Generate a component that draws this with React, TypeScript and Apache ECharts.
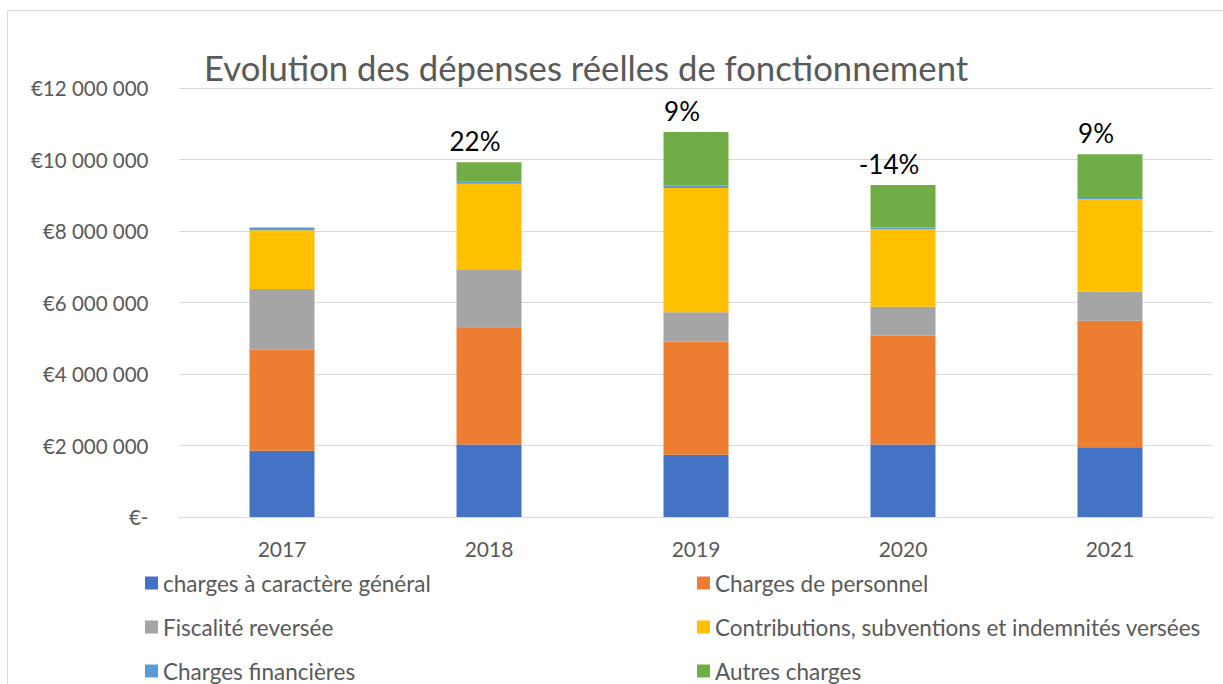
import React, { useEffect, useRef } from "react";
import * as echarts from "echarts";

const years = ["2017", "2018", "2019", "2020", "2021"];
const chargesGenerales = [1855000, 2030000, 1740000, 2030000, 1950000];
const chargesPersonnel = [2825000, 3280000, 3170000, 3050000, 3540000];
const fiscaliteReversee = [1700000, 1600000, 820000, 800000, 810000];
const contributions = [1640000, 2410000, 3470000, 2170000, 2590000];
const chargesFinancieres = [80000, 70000, 70000, 50000, 30000];
const autresCharges = [0, 530000, 1500000, 1190000, 1230000];
const growthLabels = ["", "22%", "9%", "-14%", "9%"];

const seriesNames = [
  "charges à caractère général",
  "Charges de personnel",
  "Fiscalité reversée",
  "Contributions, subventions et indemnités versées",
  "Charges financières",
  "Autres charges",
];
const seriesValues = [
  chargesGenerales,
  chargesPersonnel,
  fiscaliteReversee,
  contributions,
  chargesFinancieres,
  autresCharges,
];
const colors = ["#4472C4", "#ED7D31", "#A5A5A5", "#FFC000", "#5B9BD5", "#70AD47"];

const FONT = "Lato, 'Open Sans', sans-serif";
const GREY_TEXT = "#595959";

function fmtEuro(v: number): string {
  if (v === 0) return "€-";
  return "€" + String(v).replace(/\B(?=(\d{3})+(?!\d))/g, " ");
}

export default function App() {
  const ref = useRef<HTMLDivElement>(null);
  useEffect(() => {
    document.body.style.margin = "0";
    if (!ref.current) return;
    const chart = echarts.init(ref.current, null, { renderer: "svg" });
    const series = seriesValues.map((vals, i) => ({
      name: seriesNames[i],
      type: "bar",
      stack: "total",
      barWidth: 65,
      data: vals,
      itemStyle: { color: colors[i] },
      label:
        i === seriesValues.length - 1
          ? {
              show: true,
              position: "top",
              distance: 0,
              offset: [-14, -7],
              color: "#000",
              fontFamily: FONT,
              fontSize: 26,
              lineHeight: 28,
              formatter: (p: any) => growthLabels[p.dataIndex],
            }
          : { show: false },
    }));
    const legendText = {
      color: GREY_TEXT,
      fontFamily: FONT,
      fontSize: 22.5,
      lineHeight: 24,
    };
    chart.setOption({
      animation: false,
      backgroundColor: "#fff",
      color: colors,
      title: {
        text: "Evolution des dépenses réelles de fonctionnement",
        left: 204,
        top: 50,
        padding: 0,
        textStyle: {
          fontFamily: FONT,
          fontWeight: "normal",
          fontSize: 34.7,
          color: GREY_TEXT,
        },
      },
      graphic: [
        {
          type: "rect",
          shape: { x: 7.5, y: 10.5, width: 1400, height: 800 },
          style: { fill: "none", stroke: "#d9d9d9", lineWidth: 1 },
          silent: true,
          z: -10,
        },
      ],
      grid: { left: 178.5, right: 9.5, top: 88, bottom: 167 },
      xAxis: {
        type: "category",
        data: years,
        axisLine: { lineStyle: { color: "#d9d9d9" } },
        axisTick: { show: false },
        axisLabel: {
          color: GREY_TEXT,
          fontFamily: FONT,
          fontSize: 21,
          margin: 21,
        },
      },
      yAxis: {
        type: "value",
        min: 0,
        max: 12000000,
        interval: 2000000,
        axisLine: { show: false },
        axisTick: { show: false },
        splitLine: { lineStyle: { color: "#d9d9d9", width: 1 } },
        axisLabel: {
          color: GREY_TEXT,
          fontFamily: FONT,
          fontSize: 20.5,
          margin: 30,
          formatter: (v: number) => fmtEuro(v),
        },
      },
      legend: [
        {
          orient: "vertical",
          left: 145,
          top: 571,
          padding: 0,
          itemWidth: 13,
          itemHeight: 13,
          itemGap: 20,
          icon: "rect",
          data: [seriesNames[0], seriesNames[2], seriesNames[4]],
          textStyle: legendText,
        },
        {
          orient: "vertical",
          left: 697,
          top: 571,
          padding: 0,
          itemWidth: 13,
          itemHeight: 13,
          itemGap: 20,
          icon: "rect",
          data: [seriesNames[1], seriesNames[3], seriesNames[5]],
          textStyle: legendText,
        },
      ],
      series,
    });
    return () => chart.dispose();
  }, []);
  return <div ref={ref} style={{ width: 1223, height: 684 }} />;
}
